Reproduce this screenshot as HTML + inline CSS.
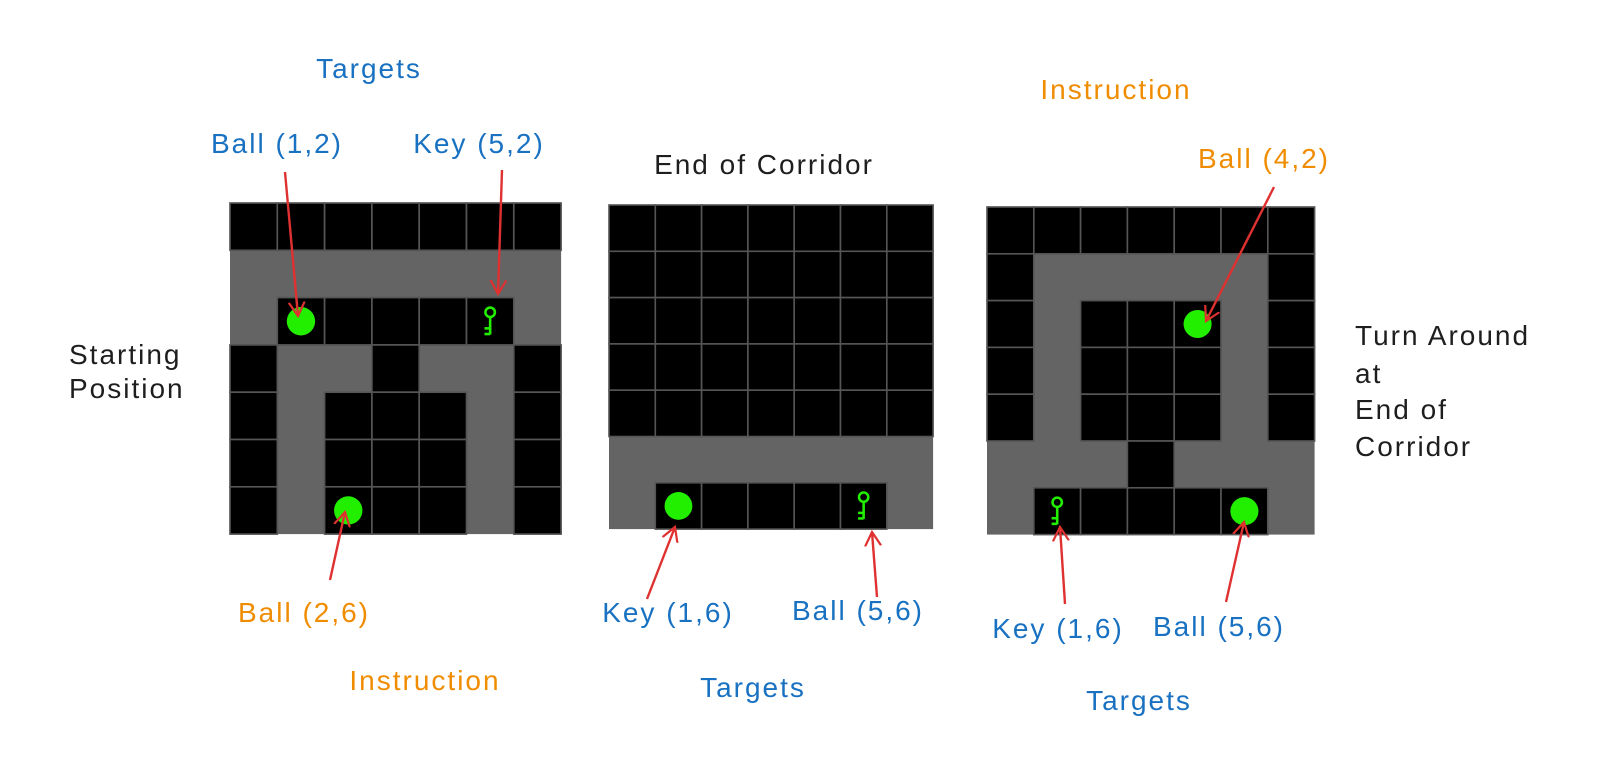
<!DOCTYPE html>
<html><head><meta charset="utf-8"><style>
html,body{margin:0;padding:0;background:#fff}
svg{display:block}
text{font-family:"Liberation Sans",sans-serif;font-size:28px;letter-spacing:2px}
.b{fill:#1971c2}.o{fill:#f08c00}.k{fill:#1e1e1e}
</style></head><body>
<svg width="1600" height="774" viewBox="0 0 1600 774" xmlns="http://www.w3.org/2000/svg">
<defs>
<rect id="c" width="10" height="10" fill="#000" stroke="#555" stroke-width="0.35"/>
<circle id="ball" cx="5" cy="5" r="3" fill="#22ee00"/>
<g id="key" stroke="#22ee00" stroke-width="0.55" fill="none">
<circle cx="5" cy="3.1" r="1.0"/><line x1="5" y1="4.1" x2="5" y2="7.8"/><line x1="3.8" y1="6.5" x2="5" y2="6.5"/><line x1="3.8" y1="7.7" x2="5" y2="7.7"/>
</g>
<marker id="ah" markerWidth="16" markerHeight="18" refX="14" refY="9" orient="auto" markerUnits="userSpaceOnUse">
<path d="M0,1 L14,9 L0,17" fill="none" stroke="#e03131" stroke-width="2.2"/></marker>
</defs>

<!-- Grid 1 -->
<g transform="translate(230,203) scale(4.73)">
<rect width="70" height="70" fill="#646464"/>
<use href="#c" x="0" y="0"/><use href="#c" x="10" y="0"/><use href="#c" x="20" y="0"/><use href="#c" x="30" y="0"/><use href="#c" x="40" y="0"/><use href="#c" x="50" y="0"/><use href="#c" x="60" y="0"/>
<use href="#c" x="10" y="20"/><use href="#c" x="20" y="20"/><use href="#c" x="30" y="20"/><use href="#c" x="40" y="20"/><use href="#c" x="50" y="20"/>
<use href="#c" x="0" y="30"/><use href="#c" x="30" y="30"/><use href="#c" x="60" y="30"/>
<use href="#c" x="0" y="40"/><use href="#c" x="20" y="40"/><use href="#c" x="30" y="40"/><use href="#c" x="40" y="40"/><use href="#c" x="60" y="40"/>
<use href="#c" x="0" y="50"/><use href="#c" x="20" y="50"/><use href="#c" x="30" y="50"/><use href="#c" x="40" y="50"/><use href="#c" x="60" y="50"/>
<use href="#c" x="0" y="60"/><use href="#c" x="20" y="60"/><use href="#c" x="30" y="60"/><use href="#c" x="40" y="60"/><use href="#c" x="60" y="60"/>
<use href="#ball" x="10" y="20"/><use href="#ball" x="20" y="60"/><use href="#key" x="50" y="20"/>
</g>

<!-- Grid 2 -->
<g transform="translate(609,205) scale(4.63)">
<rect width="70" height="70" fill="#646464"/>
<use href="#c" x="0" y="0"/><use href="#c" x="10" y="0"/><use href="#c" x="20" y="0"/><use href="#c" x="30" y="0"/><use href="#c" x="40" y="0"/><use href="#c" x="50" y="0"/><use href="#c" x="60" y="0"/>
<use href="#c" x="0" y="10"/><use href="#c" x="10" y="10"/><use href="#c" x="20" y="10"/><use href="#c" x="30" y="10"/><use href="#c" x="40" y="10"/><use href="#c" x="50" y="10"/><use href="#c" x="60" y="10"/>
<use href="#c" x="0" y="20"/><use href="#c" x="10" y="20"/><use href="#c" x="20" y="20"/><use href="#c" x="30" y="20"/><use href="#c" x="40" y="20"/><use href="#c" x="50" y="20"/><use href="#c" x="60" y="20"/>
<use href="#c" x="0" y="30"/><use href="#c" x="10" y="30"/><use href="#c" x="20" y="30"/><use href="#c" x="30" y="30"/><use href="#c" x="40" y="30"/><use href="#c" x="50" y="30"/><use href="#c" x="60" y="30"/>
<use href="#c" x="0" y="40"/><use href="#c" x="10" y="40"/><use href="#c" x="20" y="40"/><use href="#c" x="30" y="40"/><use href="#c" x="40" y="40"/><use href="#c" x="50" y="40"/><use href="#c" x="60" y="40"/>
<use href="#c" x="10" y="60"/><use href="#c" x="20" y="60"/><use href="#c" x="30" y="60"/><use href="#c" x="40" y="60"/><use href="#c" x="50" y="60"/>
<use href="#ball" x="10" y="60"/><use href="#key" x="50" y="60"/>
</g>

<!-- Grid 3 -->
<g transform="translate(987,207) scale(4.68)">
<rect width="70" height="70" fill="#646464"/>
<use href="#c" x="0" y="0"/><use href="#c" x="10" y="0"/><use href="#c" x="20" y="0"/><use href="#c" x="30" y="0"/><use href="#c" x="40" y="0"/><use href="#c" x="50" y="0"/><use href="#c" x="60" y="0"/>
<use href="#c" x="0" y="10"/><use href="#c" x="60" y="10"/>
<use href="#c" x="0" y="20"/><use href="#c" x="20" y="20"/><use href="#c" x="30" y="20"/><use href="#c" x="40" y="20"/><use href="#c" x="60" y="20"/>
<use href="#c" x="0" y="30"/><use href="#c" x="20" y="30"/><use href="#c" x="30" y="30"/><use href="#c" x="40" y="30"/><use href="#c" x="60" y="30"/>
<use href="#c" x="0" y="40"/><use href="#c" x="20" y="40"/><use href="#c" x="30" y="40"/><use href="#c" x="40" y="40"/><use href="#c" x="60" y="40"/>
<use href="#c" x="30" y="50"/>
<use href="#c" x="10" y="60"/><use href="#c" x="20" y="60"/><use href="#c" x="30" y="60"/><use href="#c" x="40" y="60"/><use href="#c" x="50" y="60"/>
<use href="#ball" x="40" y="20"/><use href="#key" x="10" y="60"/><use href="#ball" x="50" y="60"/>
</g>

<!-- Arrows -->
<g stroke="#e03131" stroke-width="2.4" fill="none" marker-end="url(#ah)">
<line x1="285" y1="172" x2="298" y2="316"/>
<line x1="502" y1="170" x2="498" y2="294"/>
<line x1="330" y1="580" x2="345" y2="512"/>
<line x1="647" y1="599" x2="675" y2="527"/>
<line x1="877" y1="597" x2="872" y2="532"/>
<line x1="1274" y1="187" x2="1206" y2="321"/>
<line x1="1065" y1="604" x2="1060" y2="527"/>
<line x1="1226" y1="602" x2="1244" y2="522"/>
</g>

<!-- Labels -->
<text class="b" x="369" y="78" text-anchor="middle">Targets</text>
<text class="b" x="277" y="153" text-anchor="middle">Ball (1,2)</text>
<text class="b" x="479" y="153" text-anchor="middle">Key (5,2)</text>
<text class="k" x="764" y="174" text-anchor="middle">End of Corridor</text>
<text class="k" x="69" y="364">Starting</text>
<text class="k" x="69" y="398">Position</text>
<text class="o" x="304" y="622" text-anchor="middle">Ball (2,6)</text>
<text class="o" x="425" y="690" text-anchor="middle">Instruction</text>
<text class="b" x="668" y="622" text-anchor="middle">Key (1,6)</text>
<text class="b" x="858" y="620" text-anchor="middle">Ball (5,6)</text>
<text class="b" x="753" y="697" text-anchor="middle">Targets</text>
<text class="o" x="1116" y="99" text-anchor="middle">Instruction</text>
<text class="o" x="1264" y="168" text-anchor="middle">Ball (4,2)</text>
<text class="k" x="1355" y="345">Turn Around</text>
<text class="k" x="1355" y="383">at</text>
<text class="k" x="1355" y="419">End of</text>
<text class="k" x="1355" y="456">Corridor</text>
<text class="b" x="1058" y="638" text-anchor="middle">Key (1,6)</text>
<text class="b" x="1219" y="636" text-anchor="middle">Ball (5,6)</text>
<text class="b" x="1139" y="710" text-anchor="middle">Targets</text>
</svg>
</body></html>
